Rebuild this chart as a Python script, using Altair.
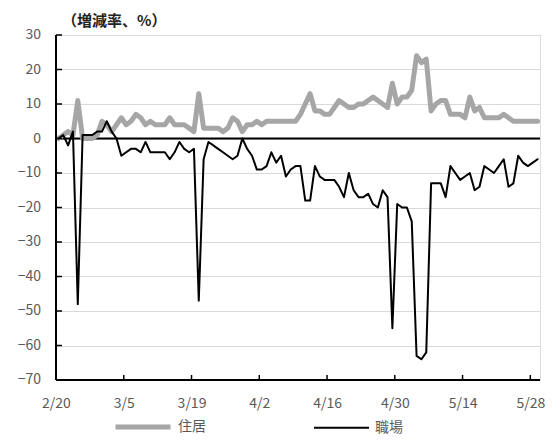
import altair as alt
import pandas as pd

# ---- data ----
start_date = "2020-02-20 12:00"
n_days = 100
series_names = ["住居", "職場"]
residential = [0, 1, 2, 1, 11, 0, 0, 0, 1, 5,
               4, 2, 4, 6, 4, 5, 7, 6, 4, 5,
               4, 4, 4, 6, 4, 4, 4, 3, 2, 13,
               3, 3, 3, 3, 2, 3, 6, 5, 2, 4,
               4, 5, 4, 5, 5, 5, 5, 5, 5, 5,
               7, 10, 13, 8, 8, 7, 7, 9, 11, 10,
               9, 9, 10, 10, 11, 12, 11, 10, 9, 16,
               10, 12, 12, 14, 24, 22, 23, 8, 10, 11,
               11, 7, 7, 7, 6, 12, 8, 9, 6, 6,
               6, 6, 7, 6, 5, 5, 5, 5, 5, 5]
workplace = [0, 1, -2, 2, -48, 1, 1, 1, 2, 2,
             5, 2, 0, -5, -4, -3, -3, -4, -1, -4,
             -4, -4, -4, -6, -4, -1, -3, -4, -3, -47,
             -6, -1, -2, -3, -4, -5, -6, -5, 0, -3,
             -5, -9, -9, -8, -4, -7, -5, -11, -9, -8,
             -8, -18, -18, -8, -11, -12, -12, -12, -14, -17,
             -10, -15, -17, -17, -16, -19, -20, -15, -17, -55,
             -19, -20, -20, -24, -63, -64, -62, -13, -13, -13,
             -17, -8, -10, -12, -11, -10, -15, -14, -8, -9,
             -10, -8, -6, -14, -13, -5, -7, -8, -7, -6]
y_ticks = [30, 20, 10, 0, -10, -20, -30, -40, -50, -60, -70]
x_tick_dates = [(2, 20), (3, 5), (3, 19), (4, 2), (4, 16), (4, 30), (5, 14), (5, 28)]
title_text = "（増減率、%）"

dates = pd.date_range(start_date, periods=n_days, freq="D")
df = pd.concat([
    pd.DataFrame({"date": dates, "value": residential, "series": series_names[0]}),
    pd.DataFrame({"date": dates, "value": workplace, "series": series_names[1]}),
])
ytick_df = pd.DataFrame({"v": y_ticks})
xtick_df = pd.DataFrame({"d": [pd.Timestamp(2020, m, d) for m, d in x_tick_dates]})

W, H = 484, 345
FONT = "Noto Sans CJK JP"
LABEL_COLOR = "#595959"

x_scale = alt.Scale(domain=[alt.DateTime(year=2020, month=2, date=20),
                            alt.DateTime(year=2020, month=5, date=30)])
y_scale = alt.Scale(domain=[-70, 30], nice=False)

x_axis = alt.Axis(values=[alt.DateTime(year=2020, month=m, date=d) for m, d in x_tick_dates],
                  format="%-m/%-d", title=None, grid=False, ticks=False, tickSize=0,
                  labelPadding=16, labelFontSize=14, labelColor=LABEL_COLOR, labelFont=FONT,
                  domain=False, labelFlush=False, labelOverlap=False)

# y axis: gridlines only (labels drawn as a text layer)
y_axis = alt.Axis(values=y_ticks, title=None, grid=True, gridColor="#d9d9d9", gridWidth=1,
                  labels=False, ticks=False, domain=False)

y_labels = alt.Chart(ytick_df).mark_text(align="right", baseline="middle", fontSize=14,
                                          font=FONT, color=LABEL_COLOR).encode(
    y=alt.Y("v:Q", scale=y_scale, axis=y_axis), x=alt.value(-15),
    text=alt.Text("v:Q", format="d"))

lines = alt.Chart(df).mark_line(strokeJoin="round", strokeCap="round").encode(
    x=alt.X("date:T", scale=x_scale, axis=x_axis),
    y=alt.Y("value:Q", scale=y_scale, axis=y_axis),
    color=alt.Color("series:N", scale=alt.Scale(domain=series_names, range=["#a6a6a6", "#000000"]),
                    legend=alt.Legend(title=None, orient="none", legendX=57, legendY=362,
                                      direction="horizontal", symbolType="stroke",
                                      symbolSize=3025, columnPadding=104, labelOffset=5,
                                      labelBaseline="middle",
                                      labelFontSize=14, labelColor=LABEL_COLOR, labelFont=FONT)),
    strokeWidth=alt.StrokeWidth("series:N", scale=alt.Scale(domain=series_names, range=[5, 2]),
                                legend=None),
    order=alt.Order("series:N", sort="ascending"),
)

zero_rule = alt.Chart(pd.DataFrame({"v": [0]})).mark_rule(color="black", strokeWidth=2).encode(
    y=alt.Y("v:Q", scale=y_scale, axis=y_axis))

y_axis_line = alt.Chart(pd.DataFrame({"v": [0]})).mark_rule(color="black", strokeWidth=2).encode(
    x=alt.value(0), y=alt.value(0), y2=alt.value(H))
x_axis_line = alt.Chart(pd.DataFrame({"v": [0]})).mark_rule(color="black", strokeWidth=2).encode(
    y=alt.value(H), x=alt.value(0), x2=alt.value(W))

y_tick_marks = alt.Chart(ytick_df).mark_rule(color="black", strokeWidth=1.5).encode(
    y=alt.Y("v:Q", scale=y_scale, axis=y_axis), x=alt.value(0), x2=alt.value(6))
x_tick_marks = alt.Chart(xtick_df).mark_rule(color="black", strokeWidth=1.5).encode(
    x=alt.X("d:T", scale=x_scale, axis=x_axis), y=alt.value(H), y2=alt.value(H - 5))

chart = alt.layer(zero_rule, lines, y_axis_line, x_axis_line, y_tick_marks, x_tick_marks,
                  y_labels).properties(
    width=W, height=H,
    title=alt.TitleParams(title_text, anchor="start", frame="group", dx=6, offset=-1, fontSize=15,
                          fontWeight="bold", font=FONT, color="#222222"),
    autosize=alt.AutoSizeParams(type="none"),
    padding={"left": 48, "top": 27, "right": 9, "bottom": 56},
).configure_view(stroke=None).configure(background="white")

chart.save("out.html", embed_options={"renderer": "svg", "actions": False})
